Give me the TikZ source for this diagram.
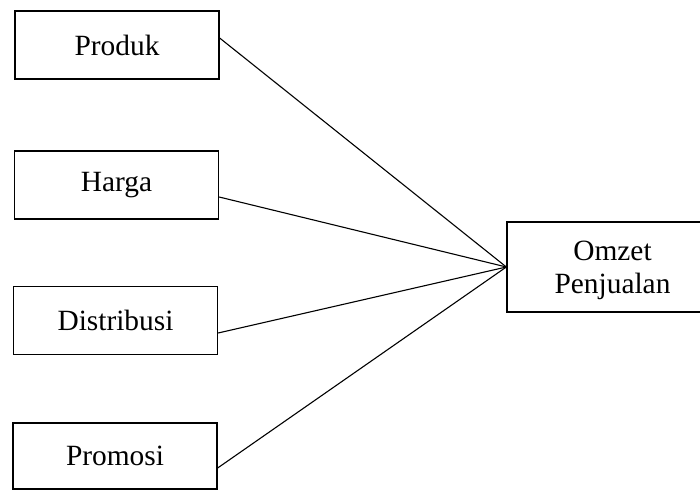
\documentclass[tikz,border=0pt]{standalone}
\usepackage{fontspec}
\setmainfont{Liberation Serif}
\begin{document}
\begin{tikzpicture}[x=1bp,y=-1bp,
  varbox/.style={draw=black, line width=1.3bp, rectangle, inner sep=0pt,
    minimum width=204bp, minimum height=68bp,
    font=\fontsize{29.5}{33}\selectfont},
  link/.style={draw=black, line width=1.1bp}]
  \useasboundingbox (0,0) rectangle (700,491);
  % independent variables
  \node[varbox] (prod) at (117,45) {Produk};
  \node[varbox] (harga) at (116.5,185) {Harga};
  \node[varbox] (dist) at (115.5,320.5) {Distribusi};
  \node[varbox, minimum height=66bp] (promo) at (115,456) {Promosi};
  % dependent variable, its right side runs past the page edge
  \node[varbox, minimum width=211bp, minimum height=90bp] (omzet) at (612.5,267) {};
  \node[font=\fontsize{29.5}{33}\selectfont, align=center, inner sep=0pt]
    (omzettext) at (612.5,270) {Omzet\\Penjualan};
  % connectors
  \draw[link] ([yshift=7bp]prod.east) -- (omzet.west);
  \draw[link] ([yshift=-12bp]harga.east) -- (omzet.west);
  \draw[link] ([yshift=-12.5bp]dist.east) -- (omzet.west);
  \draw[link] ([yshift=-12bp]promo.east) -- (omzet.west);
\end{tikzpicture}
\end{document}
